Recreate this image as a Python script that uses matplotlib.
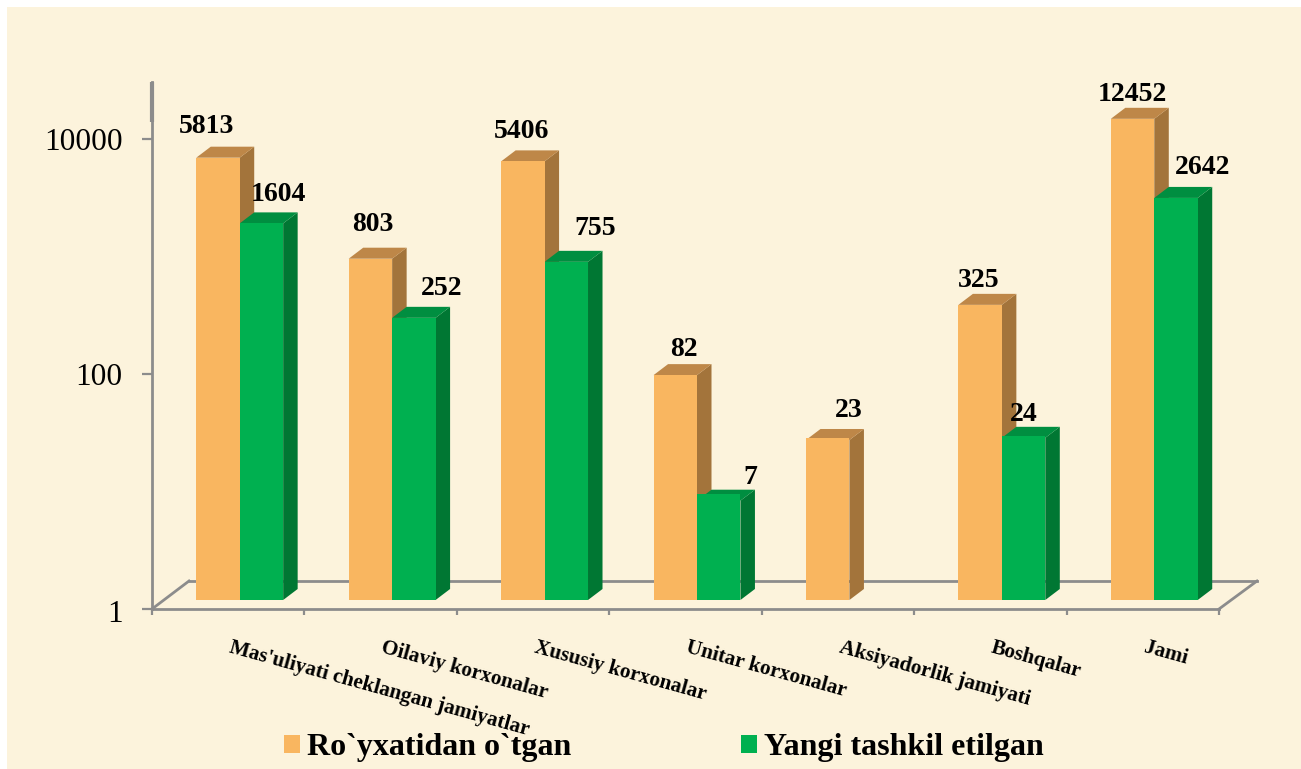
import matplotlib
matplotlib.use("Agg")
import numpy as np
import matplotlib.pyplot as plt
from matplotlib.patches import Polygon, Rectangle
from matplotlib.transforms import Affine2D, IdentityTransform

categories = ["Mas'uliyati cheklangan jamiyatlar", "Oilaviy korxonalar", "Xususiy korxonalar",
              "Unitar korxonalar", "Aksiyadorlik jamiyati", "Boshqalar", "Jami"]
registered = [5813, 803, 5406, 82, 23, 325, 12452]
new_created = [1604, 252, 755, 7, None, 24, 2642]
series_names = ["Ro`yxatidan o`tgan", "Yangi tashkil etilgan"]
y_ticks = [1, 100, 10000]
y_tick_labels = ["1", "100", "10000"]

# label placement relative to each bar's top (pixels)
reg_offsets = [(-11, 40), (2, 43), (-1, 39), (9, 35), (21, 38), (-1, 33), (0, 33)]
new_offsets = [(17, 38), (28, 38), (29, 42), (32, 32), None, (0, 32), (27, 39)]

W, H = 1301, 769
ORANGE, ORANGE_TOP, ORANGE_SIDE = "#F9B660", "#BE8748", "#A3743B"
GREEN, GREEN_TOP, GREEN_SIDE = "#00B050", "#008E40", "#007733"
GREY = "#8C8C8C"
SERIF = "Liberation Serif"

fig = plt.figure(figsize=(W / 100, H / 100), dpi=100, facecolor="white")
fig.add_artist(Rectangle((7 / W, 0), 1 - 7 / W, 1 - 7 / H, transform=fig.transFigure,
                         facecolor="#FCF3DC", edgecolor="none", zorder=-5))

L, R, B, T = 152, 1219, 609, 82
ax = fig.add_axes([L / W, 1 - B / H, (R - L) / W, (B - T) / H])
ax.patch.set_alpha(0)
ax.set_yscale("log")
ax.set_ylim(1, 10 ** ((B - T) / 117.5))
ax.set_xlim(-0.5, 6.5)
for s in ("top", "right"):
    ax.spines[s].set_visible(False)
for s in ("left", "bottom"):
    ax.spines[s].set_color(GREY)
    ax.spines[s].set_linewidth(2)
ax.set_yticks(y_ticks)
ax.set_yticklabels(y_tick_labels, fontfamily=SERIF, fontsize=22.6, color="black")
ax.minorticks_off()
ax.tick_params(axis="y", length=7, width=1.6, color=GREY, pad=14)
ax.set_xticks(np.arange(len(categories) + 1) - 0.5)
ax.set_xticklabels([])
ax.tick_params(axis="x", length=4.5, width=1.6, color=GREY)
first = ax.get_yticklabels()[0]
first.set_transform(first.get_transform() + Affine2D().translate(0, -2))

# thicker top portion of the value axis
ax.plot([-0.5, -0.5], [10 ** ((B - 122) / 117.5), 10 ** ((B - T) / 117.5)], color=GREY, lw=3,
        clip_on=False, zorder=3, solid_capstyle="butt")

# floor of the 3D box (screen pixel offsets from the axis corners)
pix = IdentityTransform()
def P(x, y):
    return (x, H - y)
floor_lines = [[(L, B), (L + 37, B - 28)], [(L + 37, B - 28), (R + 38, B - 28)], [(R + 38, B - 28), (R, B)]]
for seg in floor_lines:
    xs, ys = zip(*[P(*p) for p in seg])
    ax.add_line(plt.Line2D(xs, ys, transform=pix, color=GREY, lw=2, clip_on=False, zorder=1))

BW = 0.285
DX, DY = 14.5, 11
OFFX, OFFY = 11.5, 9
offset = ax.transData + Affine2D().translate(OFFX, OFFY)

def bar3d(x0, v, face, top, side):
    ax.bar(x0, v, width=BW, bottom=1, align="edge", color=face, transform=offset, zorder=4, linewidth=0)
    (xl, yb), (xr, yt) = offset.transform([(x0, 1), (x0 + BW, v)])
    ax.add_patch(Polygon([(xr, yb), (xr + DX, yb + DY), (xr + DX, yt + DY), (xr, yt)], closed=True,
                         facecolor=side, edgecolor="none", transform=pix, zorder=3, clip_on=False))
    ax.add_patch(Polygon([(xl, yt), (xl + DX, yt + DY), (xr + DX, yt + DY), (xr, yt)], closed=True,
                         facecolor=top, edgecolor="none", transform=pix, zorder=3, clip_on=False))

def value_label(x, v, off):
    ax.annotate(str(v), xy=(x, v), xytext=off, textcoords="offset pixels", ha="center", va="center",
                fontfamily=SERIF, fontweight="bold", fontsize=20, color="black", zorder=6, annotation_clip=False)

for i in range(len(categories)):
    bar3d(i - BW, registered[i], ORANGE, ORANGE_TOP, ORANGE_SIDE)
    if new_created[i] is not None:
        bar3d(i, new_created[i], GREEN, GREEN_TOP, GREEN_SIDE)

for i in range(len(categories)):
    value_label(i - BW / 2, registered[i], (reg_offsets[i][0] + OFFX, reg_offsets[i][1]))
    if new_created[i] is not None:
        value_label(i + BW / 2, new_created[i], (new_offsets[i][0] + OFFX, new_offsets[i][1]))
    ax.annotate(categories[i], xy=(i, 1), xytext=(4, -29), textcoords="offset pixels", rotation=-15.5,
                rotation_mode="anchor", ha="left", va="top", fontfamily=SERIF, fontweight="bold",
                fontsize=15.2, color="black", annotation_clip=False)

handles = [Rectangle((0, 0), 1, 1, facecolor=ORANGE), Rectangle((0, 0), 1, 1, facecolor=GREEN)]
fs = 23
leg = fig.legend(handles, series_names, loc="center left", bbox_to_anchor=(284 / W, 1 - 748 / H),
                 ncol=2, frameon=False, borderpad=0, borderaxespad=0,
                 handlelength=16 / (fs * 100 / 72), handleheight=16 / (fs * 100 / 72),
                 handletextpad=7 / (fs * 100 / 72), columnspacing=170 / (fs * 100 / 72),
                 prop={"family": SERIF, "weight": "bold", "size": fs})

fig.savefig("out.png", dpi=100)
